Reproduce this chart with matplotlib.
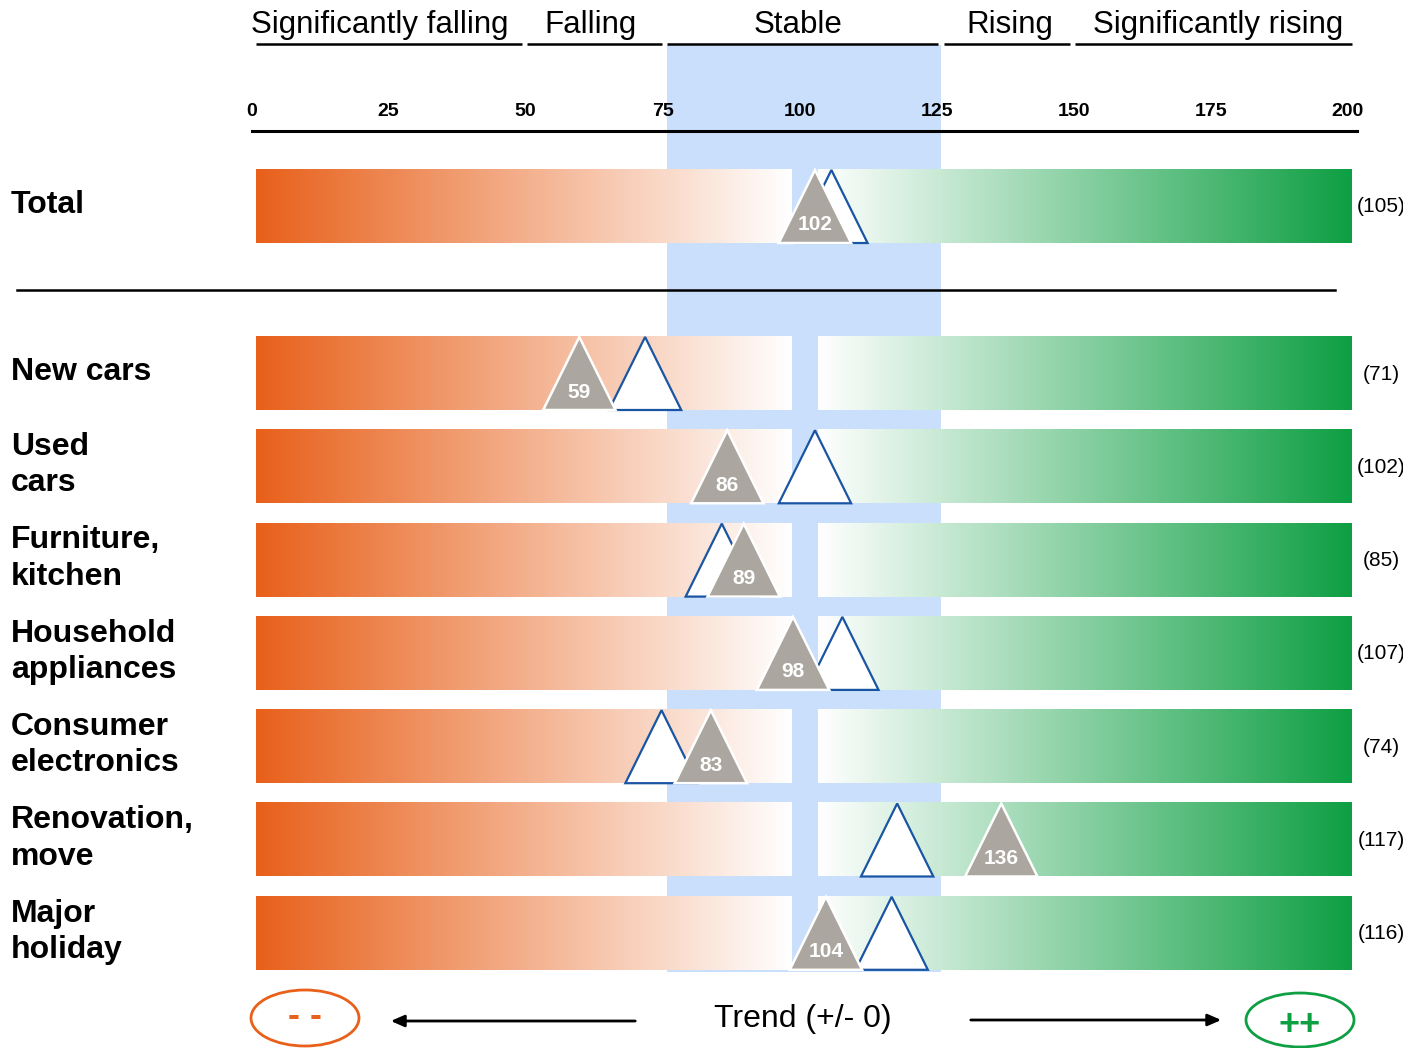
import numpy as np
import matplotlib
matplotlib.use('Agg')
import matplotlib.pyplot as plt
from matplotlib.patches import Polygon, Ellipse
from matplotlib.colors import LinearSegmentedColormap

plt.rcParams['font.family'] = ['Liberation Sans', 'DejaVu Sans']

# trend index per category: current value (grey) and previous value (white, in brackets)
categories = ['Total', 'New cars', 'Used\ncars', 'Furniture,\nkitchen', 'Household\nappliances',
              'Consumer\nelectronics', 'Renovation,\nmove', 'Major\nholiday']
current = [102, 59, 86, 89, 98, 83, 136, 104]
previous = [105, 71, 102, 85, 107, 74, 117, 116]

ticks = [0, 25, 50, 75, 100, 125, 150, 175, 200]
zones = ['Significantly falling', 'Falling', 'Stable', 'Rising', 'Significantly rising']
zone_edges = [(0, 48.5), (49.5, 74), (75, 124.5), (125.5, 148.5), (149.5, 200)]
zone_text_x = [22.5, 61, 99, 137.5, 175.5]

ORANGE = '#E8601A'
GREEN = '#0E9F43'
BAND = '#C9DFFC'
GREY = '#ABA7A0'
NAVY = '#1A55A3'

W, H = 1403, 1048
PX = 5.48          # pixels per index point
X0 = 256           # pixel position of index 0

fig = plt.figure(figsize=(W / 100, H / 100), dpi=100)
ax = fig.add_axes([0, 0, 1, 1])
ax.set_xlim(-X0 / PX, (W - X0) / PX)
ax.set_ylim(H, 0)
ax.axis('off')


def px(x):
    return (x - X0) / PX


# stable zone
ax.fill_between([75, 125], 45, 972, color=BAND, lw=0, zorder=0)

# header zones
for name, (a, b), tx in zip(zones, zone_edges, zone_text_x):
    ax.plot([a, b], [44, 44], color='black', lw=1.8, solid_capstyle='butt')
    ax.text(tx, 25, name, fontsize=22.5, ha='center', va='center')

# scale
ax.plot([px(252), px(1357)], [131, 131], color='black', lw=2.2)
for t in ticks:
    ax.text(t - 0.8, 111, str(t), fontsize=14, fontweight='bold', ha='center', va='center')

# separator between total and categories
ax.plot([px(17), px(1335)], [290, 290], color='black', lw=1.8)

orange_cmap = LinearSegmentedColormap.from_list('o', [ORANGE, '#FFFFFF'])
green_cmap = LinearSegmentedColormap.from_list('g', ['#FFFFFF', GREEN])
grad = np.linspace(0, 1, 256).reshape(1, -1)

row_y = [206] + [373 + 93.3 * i for i in range(len(categories) - 1)]
bar_h = 74
tri_w = 13.2
tri_h = 73

for name, cur, prev, yc in zip(categories, current, previous, row_y):
    top, bot = yc - bar_h / 2, yc + bar_h / 2
    ax.imshow(grad, cmap=orange_cmap, extent=[0, 97.8, bot, top], aspect='auto', zorder=1)
    ax.imshow(grad, cmap=green_cmap, extent=[102.6, 200, bot, top], aspect='auto', zorder=1)

    # previous value
    ax.add_patch(Polygon([[prev - tri_w / 2, bot], [prev, bot - tri_h], [prev + tri_w / 2, bot]],
                         closed=True, facecolor='white', edgecolor=NAVY, lw=1.6, zorder=3))
    # current value
    ax.add_patch(Polygon([[cur - tri_w / 2, bot], [cur, bot - tri_h], [cur + tri_w / 2, bot]],
                         closed=True, facecolor=GREY, edgecolor='white', lw=1.8, zorder=4))
    ax.text(cur, bot - 18, str(cur), color='white', fontsize=15, fontweight='bold',
            ha='center', va='center', zorder=5)

    ax.text(px(11), yc - 1, name, fontsize=23, fontweight='bold', ha='left', va='center',
            linespacing=1.27)
    ax.text(px(1381), yc + 1, f'({prev})', fontsize=15, ha='center', va='center')

# trend legend
ax.add_patch(Ellipse((px(305), 1018), 108 / PX, 56, facecolor='none', edgecolor=ORANGE, lw=2))
ax.text(px(305), 1016, '- -', color=ORANGE, fontsize=26, fontweight='bold', ha='center', va='center')
ax.add_patch(Ellipse((px(1300), 1020), 108 / PX, 54, facecolor='none', edgecolor=GREEN, lw=2))
ax.text(px(1300), 1026, '++', color=GREEN, fontsize=26, fontweight='bold', ha='center', va='center')

ax.annotate('', xy=(px(388), 1021), xytext=(px(638), 1021),
            arrowprops=dict(arrowstyle='-|>,head_length=0.8,head_width=0.35', color='black', lw=2))
ax.annotate('', xy=(px(1224), 1020), xytext=(px(968), 1020),
            arrowprops=dict(arrowstyle='-|>,head_length=0.8,head_width=0.35', color='black', lw=2))
ax.text(px(803), 1019, 'Trend (+/- 0)', fontsize=23, ha='center', va='center')

fig.savefig('out.png', dpi=100)
plt.close(fig)
